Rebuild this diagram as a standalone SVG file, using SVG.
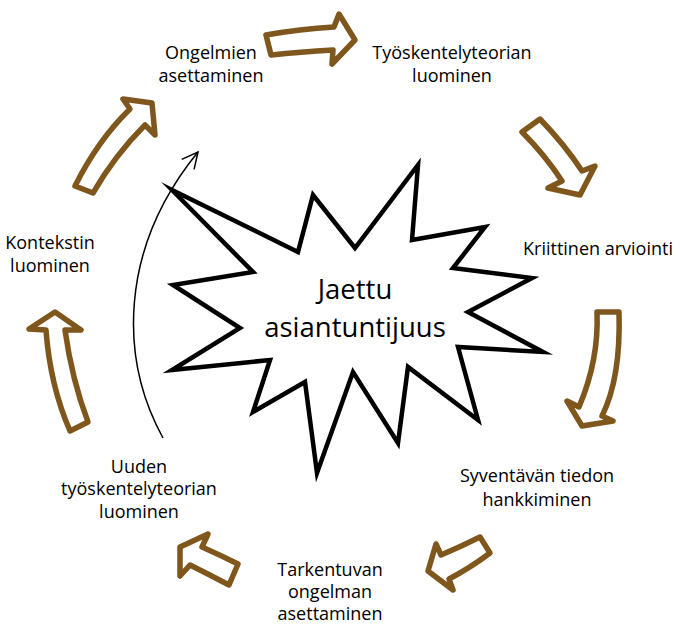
<svg xmlns="http://www.w3.org/2000/svg" width="682" height="625" viewBox="0 0 682 625">
  <defs>
    <style>
      .lbl { font-family: "Open Sans", "Liberation Sans", sans-serif; font-size: 18px; fill: #000; text-anchor: middle; }
      .big { font-family: "Open Sans", "Liberation Sans", sans-serif; font-size: 27.5px; fill: #000; text-anchor: middle; }
      .blk { fill: #fff; stroke: #7F561B; stroke-width: 5.5; stroke-linejoin: round; stroke-linecap: round; }
      .star { fill: #fff; stroke: #000; stroke-width: 4.5; stroke-linejoin: miter; stroke-miterlimit: 10; }
      .thin { fill: none; stroke: #000; stroke-width: 1.5; }
    </style>
    <marker id="open" viewBox="0 0 20 20" refX="18" refY="10" markerWidth="20" markerHeight="20" markerUnits="userSpaceOnUse" orient="auto">
      <path d="M2,2 L18,10 L2,18" fill="none" stroke="#000" stroke-width="1.5" stroke-linejoin="miter"/>
    </marker>
  </defs>
  <rect width="682" height="625" fill="#fff"/>

  <g id="center">
    <path class="star" d="M172,190 L298,252 L313,195 L355,248 L418,165 L412,240 L485,227 L453,268 L532,278 L468,312 L543,352 L458,347 L478,420 L408,367 L398,443 L353,372 L317,473 L305,382 L253,412 L270,360 L172,370 L240,328 L173,285 L253,272 Z"/>
    <text class="big" x="355" y="299">Jaettu</text>
    <text class="big" x="355" y="337">asiantuntijuus</text>
  </g>

  <g id="n1"><text class="lbl" x="211" y="59">Ongelmien</text><text class="lbl" x="211" y="82">asettaminen</text></g>
  <g id="n2"><text class="lbl" x="452" y="59">Työskentelyteorian</text><text class="lbl" x="452" y="82">luominen</text></g>
  <g id="n3"><text class="lbl" x="598" y="255">Kriittinen arviointi</text></g>
  <g id="n4"><text class="lbl" x="537" y="482">Syventävän tiedon</text><text class="lbl" x="537" y="506">hankkiminen</text></g>
  <g id="n5"><text class="lbl" x="330" y="576">Tarkentuvan</text><text class="lbl" x="330" y="598">ongelman</text><text class="lbl" x="330" y="620">asettaminen</text></g>
  <g id="n6"><text class="lbl" x="139" y="473">Uuden</text><text class="lbl" x="139" y="495">työskentelyteorian</text><text class="lbl" x="139" y="518">luominen</text></g>
  <g id="n7"><text class="lbl" x="50" y="249">Kontekstin</text><text class="lbl" x="50" y="272">luominen</text></g>

  <g id="connectors">
    <path class="blk" d="M266,35 Q300,29 334,27 L339,14 L355,40 L332,64 L333,50 Q300,52 271,55 Z"/>
    <path class="blk" d="M522,132 L540,119 Q565,145 582,171 L595,166 L580,195 L548,188 L562,181 Q545,155 522,132 Z"/>
    <path class="blk" d="M597,312 L619,312 Q621,378 602,416 L613,421 L582,426 L567,401 L579,407 Q599,360 597,312 Z"/>
    <path class="blk" d="M480,537 L490,553 Q470,568 449,579 L453,590 L428,571 L436,544 L441,555 Q460,547 480,537 Z"/>
    <path class="blk" d="M180,547 L208,534 L202,547 Q220,555 238,564 L229,585 Q210,575 190,565 L180,576 Z"/>
    <path class="blk" d="M55,312 L81,330 L65,330 Q72,380 88,422 L70,431 Q50,385 46,330 L29,329 Z"/>
    <path class="blk" d="M123,99 L152,103 L155,135 L145,125 Q115,155 93,193 L75,186 Q98,140 130,109 Z"/>
    <path class="thin" d="M163,438 C120,360 118,250 198,152" marker-end="url(#open)"/>
  </g>
</svg>
